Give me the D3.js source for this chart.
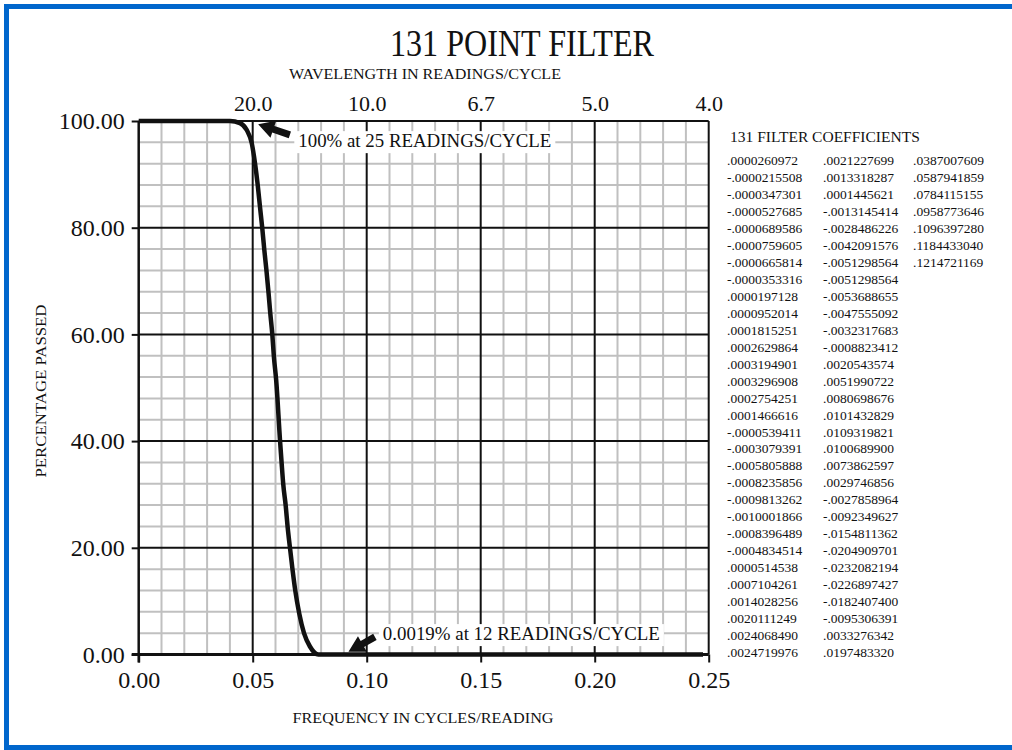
<!doctype html>
<html>
<head>
<meta charset="UTF-8">
<title>131 POINT FILTER</title>
<script src="https://cdn.jsdelivr.net/npm/d3@7"></script>
<style>
    body { margin: 0; background: #fff; }
    svg text { font-family: "Liberation Serif", "Times New Roman", serif; fill: #111; }
</style>
</head>
<body>
<svg id="chart" width="1012" height="750"></svg>
<script>
    // response curve: frequency (cycles/reading) vs percentage passed
    var freq = [0, 0.040, 0.0444, 0.0474, 0.0496, 0.0510, 0.0522, 0.0532, 0.0542, 0.0551, 0.0560, 0.0569,
        0.0577, 0.0586, 0.0593, 0.0603, 0.0620, 0.0627, 0.0634, 0.0645, 0.0653, 0.0664, 0.0675,
        0.0687, 0.0704, 0.0725, 0.0751, 0.0788, 0.2475];
    var pct = [100, 100, 99.6, 98.3, 95.8, 92.1, 88.0, 83.9, 79.9, 75.8, 72.1, 68.0,
        64.0, 60.0, 55.8, 51.4, 40.0, 35.8, 31.9, 27.8, 24.0, 19.8, 15.8,
        11.9, 7.7, 4.0, 1.5, 0, 0];

    var xTicks = [0, 0.05, 0.10, 0.15, 0.20, 0.25];
    var yTicks = [0, 20, 40, 60, 80, 100];
    var waveFreqs = [0.05, 0.10, 0.15, 0.20, 0.25];
    var waveLabels = ["20.0", "10.0", "6.7", "5.0", "4.0"];

    var coefCol1 = [".0000260972", "-.0000215508", "-.0000347301", "-.0000527685", "-.0000689586",
        "-.0000759605", "-.0000665814", "-.0000353316", ".0000197128", ".0000952014", ".0001815251",
        ".0002629864", ".0003194901", ".0003296908", ".0002754251", ".0001466616", "-.0000539411",
        "-.0003079391", "-.0005805888", "-.0008235856", "-.0009813262", "-.0010001866", "-.0008396489",
        "-.0004834514", ".0000514538", ".0007104261", ".0014028256", ".0020111249", ".0024068490",
        ".0024719976"];
    var coefCol2 = [".0021227699", ".0013318287", ".0001445621", "-.0013145414", "-.0028486226",
        "-.0042091576", "-.0051298564", "-.0051298564", "-.0053688655", "-.0047555092", "-.0032317683",
        "-.0008823412", ".0020543574", ".0051990722", ".0080698676", ".0101432829", ".0109319821",
        ".0100689900", ".0073862597", ".0029746856", "-.0027858964", "-.0092349627", "-.0154811362",
        "-.0204909701", "-.0232082194", "-.0226897427", "-.0182407400", "-.0095306391", ".0033276342",
        ".0197483320"];
    var coefCol3 = [".0387007609", ".0587941859", ".0784115155", ".0958773646", ".1096397280",
        ".1184433040", ".1214721169"];

    var svg = d3.select("#chart");

    // blue frame
    svg.append("rect").attr("x", 6.5).attr("y", 6.5).attr("width", 1030).attr("height", 741)
        .attr("fill", "none").attr("stroke", "#0066cc").attr("stroke-width", 5);

    var x = d3.scaleLinear().domain([0, 0.25]).range([138.7, 708.7]);
    var y = d3.scaleLinear().domain([0, 100]).range([654.5, 121]);

    // minor grid
    var minorX = d3.range(1, 25).filter(function (i) { return i % 5; }).map(function (i) { return i / 100; });
    var minorY = d3.range(4, 100, 4).filter(function (v) { return v % 20; });
    var grid = svg.append("g");
    grid.selectAll(".mx").data(minorX).enter().append("line")
        .attr("x1", x).attr("x2", x).attr("y1", y(100)).attr("y2", y(0))
        .attr("stroke", "#c0c0c0").attr("stroke-width", 2);
    grid.selectAll(".my").data(minorY).enter().append("line")
        .attr("x1", x(0)).attr("x2", x(0.25)).attr("y1", y).attr("y2", y)
        .attr("stroke", "#c0c0c0").attr("stroke-width", 2);

    // major grid
    grid.selectAll(".Mx").data(xTicks.slice(1)).enter().append("line")
        .attr("x1", x).attr("x2", x).attr("y1", y(100)).attr("y2", y(0))
        .attr("stroke", "#111").attr("stroke-width", 2);
    grid.selectAll(".My").data([20, 40, 60, 80, 100]).enter().append("line")
        .attr("x1", x(0)).attr("x2", x(0.25)).attr("y1", y).attr("y2", y)
        .attr("stroke", "#111").attr("stroke-width", 2);

    // axes
    var xAxis = svg.append("g").attr("transform", "translate(0," + y(0) + ")")
        .call(d3.axisBottom(x).tickValues(xTicks).tickSize(8).tickPadding(8).tickFormat(d3.format(".2f")));
    xAxis.select(".domain").attr("d", "M" + (x(0) - 7) + ",0H" + x(0.25)).attr("stroke", "#111").attr("stroke-width", 3);
    xAxis.selectAll("line").attr("stroke", "#111").attr("stroke-width", 2);
    xAxis.selectAll("text").attr("font-size", 24).attr("fill", "#111");

    var yAxis = svg.append("g").attr("transform", "translate(" + x(0) + ",0)")
        .call(d3.axisLeft(y).tickValues(yTicks).tickSize(7).tickPadding(7).tickFormat(d3.format(".2f")));
    yAxis.select(".domain").attr("d", "M0," + y(100) + "V" + (y(0) + 8)).attr("stroke", "#111").attr("stroke-width", 2.5);
    yAxis.selectAll("line").attr("stroke", "#111").attr("stroke-width", 2);
    yAxis.selectAll("text").attr("font-size", 24).attr("fill", "#111");

    var topAxis = svg.append("g").attr("transform", "translate(0," + y(100) + ")")
        .call(d3.axisTop(x).tickValues(waveFreqs).tickSize(0).tickPadding(10)
            .tickFormat(function (d, i) { return waveLabels[i]; }));
    topAxis.select(".domain").remove();
    topAxis.selectAll("text").attr("font-size", 22).attr("fill", "#111");

    // response curve
    var line = d3.line()
        .x(function (d, i) { return x(freq[i]); })
        .y(function (d, i) { return y(pct[i]); })
        .curve(d3.curveMonotoneX);
    svg.append("path").datum(freq).attr("d", line)
        .attr("fill", "none").attr("stroke", "#111").attr("stroke-width", 4.5);

    // titles
    svg.append("text").attr("x", 522).attr("y", 56).attr("text-anchor", "middle")
        .attr("font-size", 37).attr("textLength", 264).attr("lengthAdjust", "spacingAndGlyphs")
        .text("131 POINT FILTER");
    svg.append("text").attr("x", 425).attr("y", 79).attr("text-anchor", "middle")
        .attr("font-size", 15.5).attr("textLength", 272).attr("lengthAdjust", "spacingAndGlyphs")
        .text("WAVELENGTH IN READINGS/CYCLE");
    svg.append("text").attr("x", 423).attr("y", 723).attr("text-anchor", "middle")
        .attr("font-size", 15.5).attr("textLength", 261).attr("lengthAdjust", "spacingAndGlyphs")
        .text("FREQUENCY IN CYCLES/READING");
    svg.append("text").attr("transform", "translate(46,391) rotate(-90)").attr("text-anchor", "middle")
        .attr("font-size", 15.5).attr("textLength", 173).attr("lengthAdjust", "spacingAndGlyphs")
        .text("PERCENTAGE PASSED");

    // annotations
    function arrow(tx, ty, sx, sy, headLen, headHalf, shaftHalf) {
        var dx = tx - sx, dy = ty - sy, len = Math.sqrt(dx * dx + dy * dy);
        var ang = Math.atan2(dy, dx) * 180 / Math.PI;
        var pts = [[0, -shaftHalf], [len - headLen, -shaftHalf], [len - headLen, -headHalf], [len, 0],
            [len - headLen, headHalf], [len - headLen, shaftHalf], [0, shaftHalf]];
        svg.append("polygon").attr("points", pts.map(function (p) { return p.join(","); }).join(" "))
            .attr("transform", "translate(" + sx + "," + sy + ") rotate(" + ang + ")")
            .attr("fill", "#111");
    }
    function note(f, p, w, str) {
        svg.append("rect").attr("x", x(f) - 4).attr("y", y(p) - 16).attr("width", w + 8).attr("height", 22)
            .attr("fill", "#fff");
        svg.append("text").attr("x", x(f)).attr("y", y(p)).attr("font-size", 18)
            .attr("textLength", w).attr("lengthAdjust", "spacingAndGlyphs").text(str);
    }
    note(0.0700, 95.1, 253, "100% at 25 READINGS/CYCLE");
    arrow(x(0.0524), y(99.4), x(0.0663), y(97.4), 16, 9, 3.5);
    note(0.1071, 2.7, 277, "0.0019% at 12 READINGS/CYCLE");
    arrow(x(0.0920), y(0.5), x(0.1036), y(3.3), 16, 9, 3.5);

    // coefficient table
    var table = svg.append("g").attr("font-size", 13.5);
    table.append("text").attr("x", 730).attr("y", 142).attr("font-size", 15.5).text("131 FILTER COEFFICIENTS");
    [coefCol1, coefCol2, coefCol3].forEach(function (col, c) {
        table.selectAll(".c" + c).data(col).enter().append("text")
            .attr("x", [727, 823, 913][c])
            .attr("y", function (d, i) { return 165 + i * 16.97; })
            .text(function (d) { return d; });
    });
</script>
</body>
</html>
